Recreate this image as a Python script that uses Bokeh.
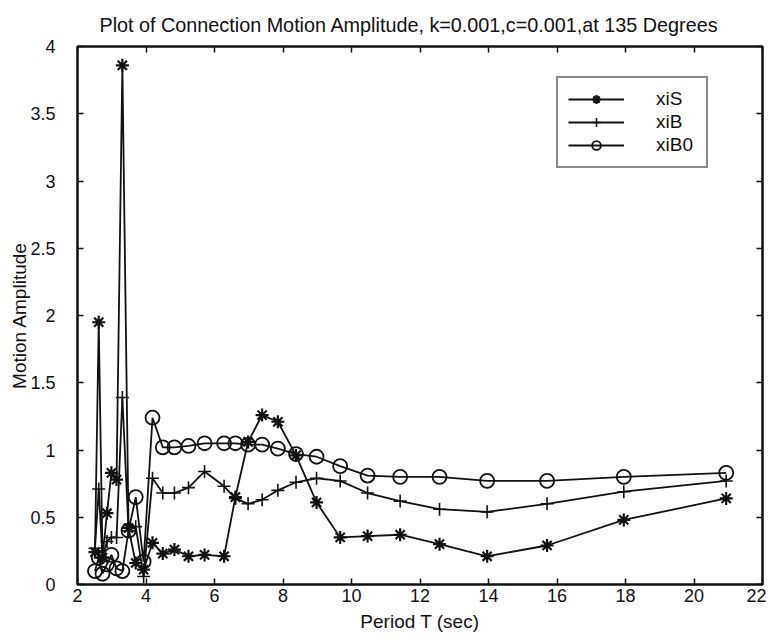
from bokeh.plotting import figure
from bokeh.models import LinearAxis, Range1d, FixedTicker, Legend, LegendItem
from bokeh.embed import file_html
from bokeh.resources import INLINE

# ---------------- data ----------------
period = [2.51, 2.62, 2.73, 2.86, 2.99, 3.14, 3.31, 3.49, 3.70, 3.93,
          4.19, 4.49, 4.83, 5.24, 5.71, 6.28, 6.61, 6.98, 7.39, 7.85,
          8.38, 8.98, 9.67, 10.47, 11.42, 12.57, 13.96, 15.71, 17.95, 20.94]
xiS = [0.24, 1.95, 0.20, 0.53, 0.83, 0.78, 3.86, 0.42, 0.16, 0.11,
       0.31, 0.23, 0.26, 0.21, 0.22, 0.21, 0.65, 1.06, 1.26, 1.21,
       0.96, 0.61, 0.35, 0.36, 0.37, 0.30, 0.21, 0.29, 0.48, 0.64]
xiB = [0.27, 0.71, 0.20, 0.32, 0.35, 0.35, 1.39, 0.40, 0.43, 0.06,
       0.79, 0.68, 0.68, 0.72, 0.84, 0.73, 0.64, 0.60, 0.63, 0.70,
       0.76, 0.79, 0.77, 0.68, 0.62, 0.56, 0.54, 0.60, 0.69, 0.77]
xiB0 = [0.10, 0.20, 0.08, 0.15, 0.22, 0.12, 0.10, 0.40, 0.65, 0.17,
        1.24, 1.02, 1.02, 1.03, 1.05, 1.05, 1.05, 1.04, 1.04, 1.01,
        0.97, 0.95, 0.88, 0.81, 0.80, 0.80, 0.77, 0.77, 0.80, 0.83]

series_names = ["xiS", "xiB", "xiB0"]
x_ticks = [2, 4, 6, 8, 10, 12, 14, 16, 18, 20, 22]
y_ticks = [0, 0.5, 1, 1.5, 2, 2.5, 3, 3.5, 4]
y_tick_labels = ["0", "0.5", "1", "1.5", "2", "2.5", "3", "3.5", "4"]

title_text = "Plot of Connection Motion Amplitude, k=0.001,c=0.001,at 135 Degrees"
x_label = "Period T (sec)"
y_label = "Motion Amplitude"

FONT = "Liberation Sans"
INK = "#111111"

p = figure(width=766, height=636, output_backend="svg", toolbar_location=None,
           x_range=Range1d(2, 22), y_range=Range1d(0, 4),
           min_border_left=77, min_border_right=4, min_border_top=46,
           min_border_bottom=52, x_axis_label=x_label, y_axis_label=y_label)

p.title.text = title_text
p.title.align = "left"
p.title.offset = 22
p.title.text_font = FONT
p.title.text_font_size = "19.8px"
p.title.text_font_style = "normal"
p.title.text_color = INK
p.title.text_line_height = 0.8
p.title.standoff = 22

p.grid.visible = False
p.outline_line_color = INK
p.outline_line_width = 2
p.background_fill_color = "white"
p.border_fill_color = "white"


def style_axis(ax, ticks, show_labels=True):
    ax.ticker = FixedTicker(ticks=ticks)
    ax.major_tick_in = 6
    ax.major_tick_out = 0
    ax.minor_tick_line_color = None
    ax.axis_line_color = INK
    ax.axis_line_width = 2
    ax.major_tick_line_color = INK
    ax.major_tick_line_width = 1.5
    if show_labels:
        ax.major_label_text_font = FONT
        ax.major_label_text_font_size = "18px"
        ax.major_label_text_color = INK
        ax.axis_label_text_font = FONT
        ax.axis_label_text_font_size = "19px"
        ax.axis_label_text_font_style = "normal"
        ax.axis_label_text_color = INK
    else:
        ax.major_label_text_font_size = "0px"
        ax.major_label_text_color = None
        ax.major_label_standoff = 0


style_axis(p.xaxis[0], x_ticks)
style_axis(p.yaxis[0], y_ticks)
p.yaxis[0].major_label_overrides = dict(zip(y_ticks, y_tick_labels))
p.xaxis[0].major_label_standoff = 4
p.xaxis[0].axis_label_standoff = 6
p.yaxis[0].major_label_standoff = 22
p.yaxis[0].axis_label_standoff = -3

top_ax = LinearAxis()
style_axis(top_ax, x_ticks, show_labels=False)
p.add_layout(top_ax, "above")
right_ax = LinearAxis()
style_axis(right_ax, y_ticks, show_labels=False)
p.add_layout(right_ax, "right")

lw = 1.8
l1 = p.line(period, xiS, line_color=INK, line_width=lw)
m1 = p.scatter(period, xiS, marker="asterisk", size=13, line_color=INK, line_width=2.2)
l2 = p.line(period, xiB, line_color=INK, line_width=lw)
m2 = p.scatter(period, xiB, marker="cross", size=13, line_color=INK, line_width=1.6)
l3 = p.line(period, xiB0, line_color=INK, line_width=lw)
m3 = p.scatter(period, xiB0, marker="circle", size=14, line_color=INK,
               fill_color=None, line_width=1.8)

legend = Legend(items=[LegendItem(label=series_names[0], renderers=[l1, m1]),
                       LegendItem(label=series_names[1], renderers=[l2, m2]),
                       LegendItem(label=series_names[2], renderers=[l3, m3])],
                location=(479, 416))
legend.border_line_color = INK
legend.border_line_width = 2
legend.background_fill_color = "white"
legend.background_fill_alpha = 1
legend.glyph_width = 56
legend.glyph_height = 22
legend.label_height = 22
legend.spacing = 1
legend.padding = 10
legend.margin = 0
legend.label_standoff = 32
legend.label_width = 40
legend.label_text_font = FONT
legend.label_text_font_size = "19px"
legend.label_text_color = INK
p.add_layout(legend)

open("out.html", "w").write(file_html(p, INLINE))
